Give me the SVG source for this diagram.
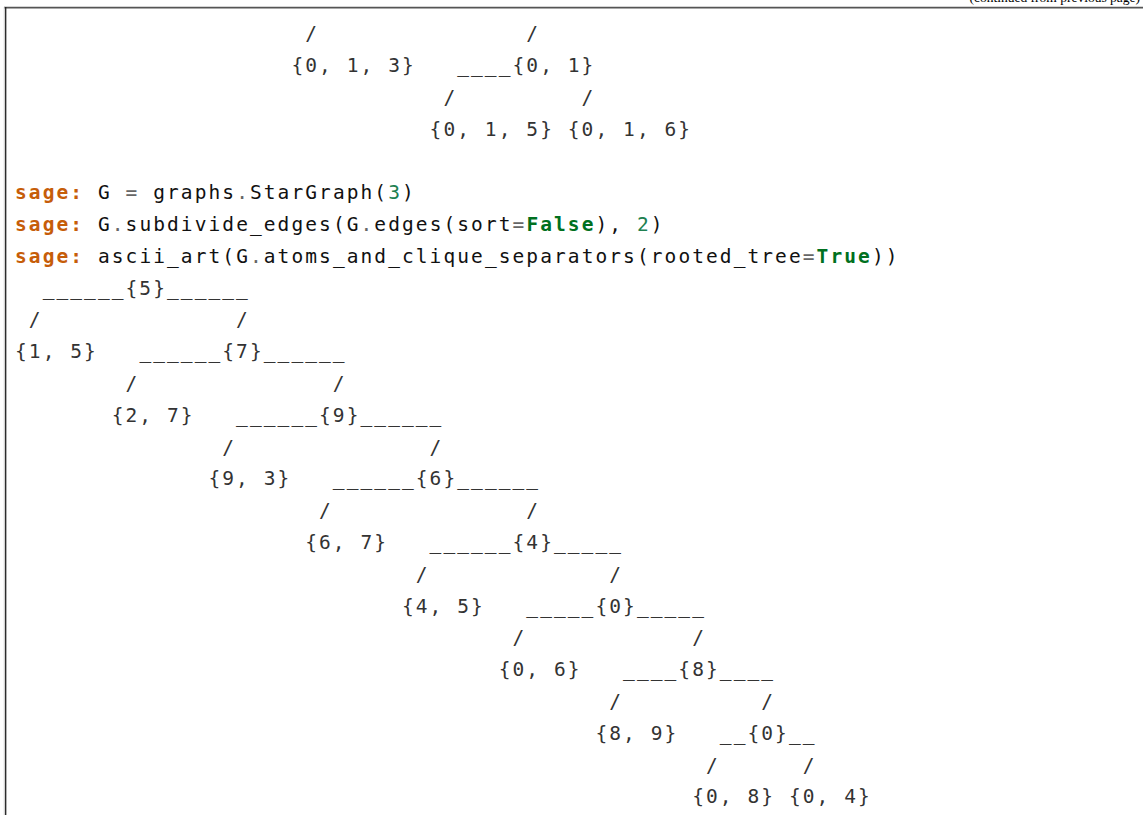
<svg xmlns="http://www.w3.org/2000/svg" width="1143" height="815" viewBox="0 0 1143 815">
<style>
.t{font-family:"DejaVu Sans Mono","Liberation Mono",monospace;font-size:19.5px;letter-spacing:2.08px;white-space:pre}
.out{fill:#333333}
.in{fill:#111111}
.gp{fill:#c65d09;font-weight:bold}
.o{fill:#666666}
.m{fill:#208050}
.kc{fill:#007020;font-weight:bold}
.cont{font-family:"Liberation Serif","Times New Roman",serif;font-size:13.5px;fill:#000}
</style>
<rect x="0" y="0" width="1143" height="815" fill="#ffffff"/>
<g id="frame">
<text class="cont" x="1140" y="1.5" text-anchor="end">(continued from previous page)</text>
<line x1="4" y1="7.6" x2="1143" y2="7.6" stroke="#555555" stroke-width="1.6"/>
<line x1="4.3" y1="7" x2="4.3" y2="815" stroke="#bbbbbb" stroke-width="0.8"/>
<line x1="5.7" y1="7" x2="5.7" y2="815" stroke="#222222" stroke-width="1.3"/>
</g>
<g id="code">
<text class="t in" x="15" y="199.2" xml:space="preserve"><tspan class="gp">sage:</tspan> G <tspan class="o">=</tspan> graphs<tspan class="o">.</tspan>StarGraph(<tspan class="m">3</tspan>)</text>
<text class="t in" x="15" y="231" xml:space="preserve"><tspan class="gp">sage:</tspan> G<tspan class="o">.</tspan>subdivide_edges(G<tspan class="o">.</tspan>edges(sort<tspan class="o">=</tspan><tspan class="kc">False</tspan>), <tspan class="m">2</tspan>)</text>
<text class="t in" x="15" y="262.8" xml:space="preserve"><tspan class="gp">sage:</tspan> ascii_art(G<tspan class="o">.</tspan>atoms_and_clique_separators(rooted_tree<tspan class="o">=</tspan><tspan class="kc">True</tspan>))</text>
</g>
<g id="nodes" class="t out">
<g id="node-013"><text x="291.4" y="72">{0, 1, 3}</text></g>
<g id="node-01"><text x="457.24" y="72">____{0, 1}</text></g>
<g id="node-015"><text x="429.6" y="135.6">{0, 1, 5}</text></g>
<g id="node-016"><text x="567.8" y="135.6">{0, 1, 6}</text></g>
<g id="node-5"><text x="42.64" y="294.6">______{5}______</text></g>
<g id="node-15"><text x="15" y="358.2">{1, 5}</text></g>
<g id="node-7"><text x="139.38" y="358.2">______{7}______</text></g>
<g id="node-27"><text x="111.74" y="421.8">{2, 7}</text></g>
<g id="node-9"><text x="236.12" y="421.8">______{9}______</text></g>
<g id="node-93"><text x="208.48" y="485.4">{9, 3}</text></g>
<g id="node-6"><text x="332.86" y="485.4">______{6}______</text></g>
<g id="node-67"><text x="305.22" y="549">{6, 7}</text></g>
<g id="node-4"><text x="429.6" y="549">______{4}_____</text></g>
<g id="node-45"><text x="401.96" y="612.6">{4, 5}</text></g>
<g id="node-0a"><text x="526.34" y="612.6">_____{0}_____</text></g>
<g id="node-06"><text x="498.7" y="676.2">{0, 6}</text></g>
<g id="node-8"><text x="623.08" y="676.2">____{8}____</text></g>
<g id="node-89"><text x="595.44" y="739.8">{8, 9}</text></g>
<g id="node-0b"><text x="719.82" y="739.8">__{0}__</text></g>
<g id="node-08"><text x="692.18" y="803.4">{0, 8}</text></g>
<g id="node-04"><text x="788.92" y="803.4">{0, 4}</text></g>
</g>
<g id="connectors" class="t out">
<text x="305.22" y="40.2">/</text>
<text x="526.34" y="40.2">/</text>
<text x="443.42" y="103.8">/</text>
<text x="581.62" y="103.8">/</text>
<text x="28.82" y="326.4">/</text>
<text x="236.12" y="326.4">/</text>
<text x="125.56" y="390">/</text>
<text x="332.86" y="390">/</text>
<text x="222.3" y="453.6">/</text>
<text x="429.6" y="453.6">/</text>
<text x="319.04" y="517.2">/</text>
<text x="526.34" y="517.2">/</text>
<text x="415.78" y="580.8">/</text>
<text x="609.26" y="580.8">/</text>
<text x="512.52" y="644.4">/</text>
<text x="692.18" y="644.4">/</text>
<text x="609.26" y="708">/</text>
<text x="761.28" y="708">/</text>
<text x="706" y="771.6">/</text>
<text x="802.74" y="771.6">/</text>
</g>
</svg>
